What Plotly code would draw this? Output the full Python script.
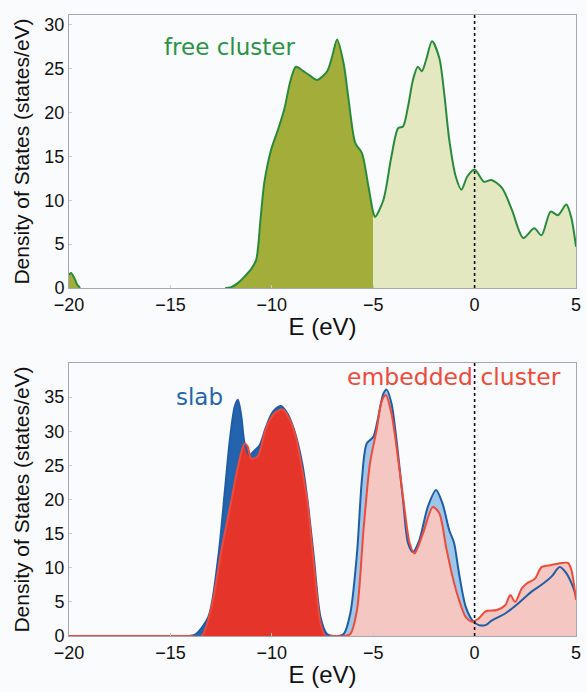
import numpy as np
import plotly.graph_objects as go

# ---------------- data ----------------
E_free = [-20.0, -19.9, -19.75, -19.6, -19.45, -17.0, -14.0, -12.3, -12.0, -11.6, -11.34, -11.0,
          -10.77, -10.55, -10.37, -10.04, -9.7, -9.39, -9.07, -8.81, -8.44, -8.12, -7.76, -7.27,
          -7.02, -6.78, -6.46, -6.21, -5.88, -5.56, -5.23, -5.0, -4.91, -4.5, -4.1, -3.77, -3.53,
          -3.28, -3.04, -2.8, -2.6, -2.39, -2.1, -1.74, -1.5, -1.25, -0.93, -0.65, -0.36, 0.0,
          0.46, 0.83, 1.35, 1.84, 2.4, 2.94, 3.3, 3.75, 4.11, 4.52, 4.76, 5.0]
DOS_free = [1.5, 1.7, 1.2, 0.4, 0.0, 0.0, 0.0, 0.0, 0.1, 0.7, 1.3, 2.2,
            3.2, 8.0, 12.0, 15.7, 18.0, 20.3, 23.7, 25.2, 24.7, 24.2, 23.7, 24.7,
            26.4, 28.3, 25.6, 21.4, 16.5, 15.4, 11.5, 8.6, 8.1, 10.0, 15.0, 18.2, 18.4,
            20.7, 23.7, 25.2, 24.7, 26.0, 28.1, 26.2, 22.2, 16.9, 12.7, 11.2, 12.7, 13.5,
            12.1, 12.3, 11.4, 8.9, 5.7, 6.8, 6.0, 8.7, 8.3, 9.5, 8.1, 4.7]

E_slab = [-20.0, -16.0, -14.2, -13.78, -13.13, -12.64, -12.31, -12.07, -11.83, -11.67,
          -11.5, -11.34, -11.1, -10.85, -10.61, -10.29, -9.96, -9.56, -9.23, -8.9,
          -8.5, -8.26, -7.93, -7.6, -7.28, -7.0, -6.7, -6.45, -6.13, -5.8,
          -5.56, -5.32, -4.99, -4.75, -4.5, -4.34, -4.1, -3.85, -3.53, -3.28,
          -3.04, -2.72, -2.31, -1.9, -1.58, -1.25, -1.01, -0.77, -0.44, -0.11,
          0.21, 0.54, 0.86, 1.51, 2.16, 2.81, 3.3, 3.79, 4.2, 4.52,
          4.85, 5.0]
DOS_slab = [0, 0, 0, 0.2, 2.8, 11.6, 21.4, 28.7, 33.6, 34.6,
            32.1, 28.2, 26.5, 27.2, 27.9, 30.6, 32.8, 33.7, 32.6, 30.2,
            25.3, 20.4, 11.6, 2.8, 0.3, 0, 0, 0.3, 3.3, 12.1,
            22.8, 28.2, 29.2, 32.1, 35.5, 36.1, 34.1, 28.7, 19.9, 13.6,
            12.3, 14.1, 18.9, 21.4, 19.4, 15.5, 13.6, 9.2, 4.3, 2.3,
            1.6, 1.6, 2.3, 3.3, 4.8, 6.5, 7.5, 8.7, 10.1, 9.2,
            7.2, 5.8]

E_emb = [-20.0, -16.0, -14.0, -13.46, -12.97, -12.48, -11.99, -11.67, -11.34, -11.18,
         -11.02, -10.69, -10.29, -9.88, -9.46, -9.15, -8.82, -8.5, -8.26, -7.93,
         -7.6, -7.36, -7.0, -6.4, -6.13, -5.8, -5.48, -5.16, -4.83, -4.59,
         -4.38, -4.1, -3.85, -3.53, -3.2, -2.96, -2.55, -2.06, -1.74, -1.41,
         -1.09, -0.77, -0.44, -0.11, 0.21, 0.54, 1.1, 1.51, 1.76, 2.0,
         2.33, 2.57, 2.98, 3.3, 3.79, 4.11, 4.6, 4.77, 5.0]
DOS_emb = [0, 0, 0, 0, 4.3, 12.6, 19.9, 24.8, 28.2, 27.7,
           26.0, 26.3, 30.4, 32.6, 33.2, 31.9, 29.2, 24.3, 20.0, 10.6,
           1.9, 0, 0, 0, 0.3, 3.8, 15.5, 25.3, 30.2, 34.3,
           35.3, 32.6, 27.7, 20.4, 13.6, 12.1, 15.0, 18.9, 18.0, 13.1,
           8.7, 5.3, 2.8, 2.1, 2.6, 3.6, 3.8, 4.5, 6.0, 5.0,
           7.0, 7.7, 8.4, 10.1, 10.4, 10.6, 10.7, 9.7, 5.3]

x_ticks = [-20, -15, -10, -5, 0, 5]
y_ticks_top = [0, 5, 10, 15, 20, 25, 30]
y_ticks_bot = [0, 5, 10, 15, 20, 25, 30, 35]

# ---------------- helpers ----------------
def part(E, D, cond):
    E = np.array(E, float); D = np.array(D, float)
    m = cond(E)
    return E[m], D[m]

def line_gaps(D):
    out = []
    n = len(D)
    for i, v in enumerate(D):
        left = D[i - 1] if i > 0 else 0
        right = D[i + 1] if i < n - 1 else 0
        if v == 0 and left == 0 and right == 0:
            out.append(None)
        else:
            out.append(v)
    return out

SM = 0.8
fig = go.Figure()

# ---- top: free cluster ----
ex, dy = part(E_free, DOS_free, lambda e: e <= -5.0)
fig.add_trace(go.Scatter(x=ex, y=dy, mode="lines", fill="tozeroy", fillcolor="#a3ae3a",
                         line=dict(width=0, shape="spline", smoothing=SM), hoverinfo="skip",
                         xaxis="x", yaxis="y", showlegend=False))
ex, dy = part(E_free, DOS_free, lambda e: e >= -5.0)
fig.add_trace(go.Scatter(x=ex, y=dy, mode="lines", fill="tozeroy", fillcolor="#e3e8c1",
                         line=dict(width=0, shape="spline", smoothing=SM), hoverinfo="skip",
                         xaxis="x", yaxis="y", showlegend=False))
fig.add_trace(go.Scatter(x=E_free, y=line_gaps(DOS_free), mode="lines", name="free cluster",
                         line=dict(color="#2a8a3c", width=2, shape="spline", smoothing=SM),
                         connectgaps=False, xaxis="x", yaxis="y", showlegend=False))

# ---- bottom: slab & embedded cluster ----
ex, dy = part(E_slab, DOS_slab, lambda e: e <= -7.0)
fig.add_trace(go.Scatter(x=ex, y=dy, mode="lines", fill="tozeroy", fillcolor="#2464ae",
                         line=dict(width=0, shape="spline", smoothing=SM), hoverinfo="skip",
                         xaxis="x2", yaxis="y2", showlegend=False))
ex, dy = part(E_emb, DOS_emb, lambda e: e <= -7.0)
fig.add_trace(go.Scatter(x=ex, y=dy, mode="lines", fill="tozeroy", fillcolor="#e5352a",
                         line=dict(width=0, shape="spline", smoothing=SM), hoverinfo="skip",
                         xaxis="x2", yaxis="y2", showlegend=False))
ex, dy = part(E_slab, DOS_slab, lambda e: e >= -7.0)
fig.add_trace(go.Scatter(x=ex, y=dy, mode="lines", fill="tozeroy", fillcolor="#9dc6e8",
                         line=dict(width=0, shape="spline", smoothing=SM), hoverinfo="skip",
                         xaxis="x2", yaxis="y2", showlegend=False))
ex, dy = part(E_emb, DOS_emb, lambda e: e >= -7.0)
fig.add_trace(go.Scatter(x=ex, y=dy, mode="lines", fill="tozeroy", fillcolor="#f5c7c2",
                         line=dict(width=0, shape="spline", smoothing=SM), hoverinfo="skip",
                         xaxis="x2", yaxis="y2", showlegend=False))
fig.add_trace(go.Scatter(x=E_slab, y=DOS_slab, mode="lines", name="slab",
                         line=dict(color="#1f5da6", width=2, shape="spline", smoothing=SM),
                         xaxis="x2", yaxis="y2", showlegend=False))
fig.add_trace(go.Scatter(x=E_emb, y=DOS_emb, mode="lines", name="embedded cluster",
                         line=dict(color="#ef4a3a", width=2, shape="spline", smoothing=SM),
                         xaxis="x2", yaxis="y2", showlegend=False))

FRAME = "#a4a8ae"
axis_common = dict(showgrid=False, zeroline=False, showline=True, mirror=True,
                   linecolor=FRAME, linewidth=1, ticks="inside", ticklen=3,
                   tickcolor="#c8ccd2", tickfont=dict(size=18, color="#111"))
xcommon = dict(axis_common, range=[-20, 5], tickvals=x_ticks,
               title=dict(text="E (eV)", font=dict(size=24, color="#111"), standoff=4))
ycommon_title = dict(text="Density of States (states/eV)", font=dict(size=21, color="#111"),
                     standoff=9)

fig.update_layout(
    width=587, height=692,
    margin=dict(l=69, r=6, t=15, b=56),
    paper_bgcolor="#fafbfd", plot_bgcolor="#fafbfd",
    font=dict(family="Liberation Sans, Arial, sans-serif", color="#111"),
    xaxis=dict(xcommon, anchor="y"),
    yaxis=dict(axis_common, domain=[0.5604, 1.0], range=[0, 31.1], tickvals=y_ticks_top,
               title=ycommon_title, anchor="x"),
    xaxis2=dict(xcommon, anchor="y2"),
    yaxis2=dict(axis_common, domain=[0.0, 0.4396], range=[0, 40], tickvals=y_ticks_bot,
                title=ycommon_title, anchor="x2"),
    shapes=[
        dict(type="line", xref="x", yref="y domain", x0=0, x1=0, y0=0, y1=1,
             line=dict(color="#111", width=1.6, dash="dot")),
        dict(type="line", xref="x2", yref="y2 domain", x0=0, x1=0, y0=0, y1=1,
             line=dict(color="#111", width=1.6, dash="dot")),
    ],
    annotations=[
        dict(text="free cluster", x=-12.1, y=27.5, xref="x", yref="y", showarrow=False,
             font=dict(family="DejaVu Sans", size=23, color="#2a9446")),
        dict(text="slab", x=-13.57, y=35.0, xref="x2", yref="y2", showarrow=False,
             font=dict(family="DejaVu Sans", size=23, color="#2365ad")),
        dict(text="embedded cluster", x=-1.02, y=37.9, xref="x2", yref="y2", showarrow=False,
             font=dict(family="DejaVu Sans", size=23.5, color="#ef4a3a")),
    ],
)

# remove the browser's default 8px body margin so the figure sits at the window origin
fig.write_html("out.html",
               config={"displayModeBar": False},
               post_script="document.body.style.margin='0';document.body.style.overflow='hidden';"
                           "document.documentElement.style.overflow='hidden';")
